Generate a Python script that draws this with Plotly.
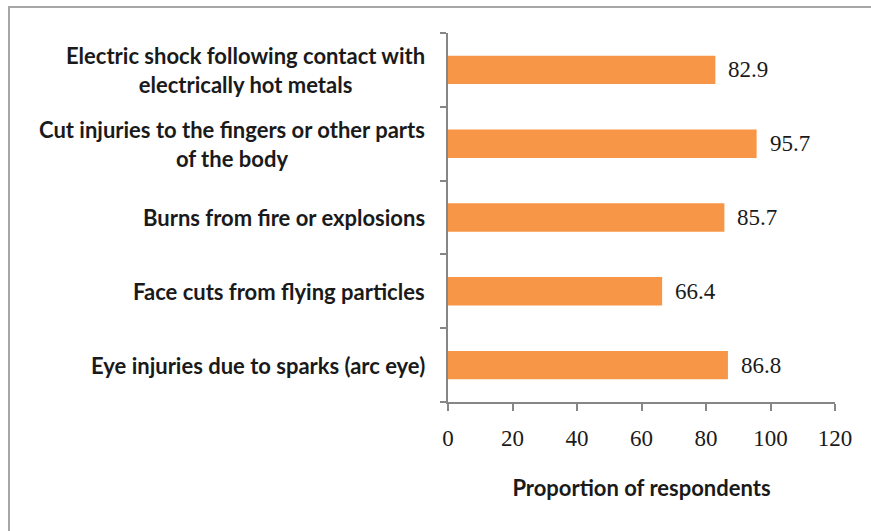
import plotly.graph_objects as go

# Survey results: injuries respondents associated with welding
categories = [
    "Eye injuries due to sparks (arc eye)",
    "Face cuts from flying particles",
    "Burns from fire or explosions",
    "Cut injuries to the fingers or other parts<br>of the body",
    "Electric shock following contact with<br>electrically hot metals",
]
values = [86.8, 66.4, 85.7, 95.7, 82.9]
x_ticks = [0, 20, 40, 60, 80, 100, 120]

BAR_COLOR = "#F79646"
AXIS_COLOR = "#868686"
TEXT_COLOR = "#1a1a1a"
LABEL_FONT = dict(family="Lato", size=22, color=TEXT_COLOR, weight="bold")
NUM_FONT = dict(family="Liberation Serif", size=23, color=TEXT_COLOR)

fig = go.Figure(
    go.Bar(
        x=values,
        y=categories,
        orientation="h",
        marker=dict(color=BAR_COLOR, line=dict(width=0)),
        hoverinfo="skip",
    )
)

# Category labels, centred line by line, to the left of the axis
for cat in categories:
    fig.add_annotation(
        x=0, xref="paper", y=cat, yref="y",
        text=cat, showarrow=False,
        xanchor="right", yanchor="middle", xshift=-21,
        align="center", font=LABEL_FONT,
    )

# Value labels just beyond each bar end
for cat, v in zip(categories, values):
    fig.add_annotation(
        x=v, xref="x", y=cat, yref="y",
        text=f"{v:.1f}", showarrow=False,
        xanchor="left", yanchor="middle", xshift=11,
        font=NUM_FONT,
    )

# Light frame around the whole chart
fig.add_shape(
    type="rect", xref="paper", yref="paper",
    x0=-1.1344, x1=1.2, y0=-0.4, y1=1.0705,
    line=dict(color="#A6A6A6", width=2), layer="below",
)

fig.update_layout(
    width=871, height=531,
    margin=dict(l=448, r=36, t=33, b=129),
    paper_bgcolor="white", plot_bgcolor="white",
    bargap=0.615,
    showlegend=False,
    xaxis=dict(
        range=[0, 120], tickvals=x_ticks, ticktext=[str(t) for t in x_ticks],
        showgrid=False, zeroline=False,
        showline=True, linecolor=AXIS_COLOR, linewidth=1.5,
        ticks="outside", ticklen=7, tickcolor=AXIS_COLOR, tickwidth=1.5,
        tickfont=NUM_FONT, ticklabelstandoff=8,
        title=dict(text="Proportion of respondents", font=LABEL_FONT, standoff=30),
    ),
    yaxis=dict(
        type="category", categoryorder="array", categoryarray=categories,
        showticklabels=False, showgrid=False, zeroline=False,
        showline=True, linecolor=AXIS_COLOR, linewidth=1.5,
        ticks="outside", ticklen=6, tickcolor=AXIS_COLOR, tickwidth=1.5,
        tickson="boundaries",
    ),
)

fig.write_html("out.html")
